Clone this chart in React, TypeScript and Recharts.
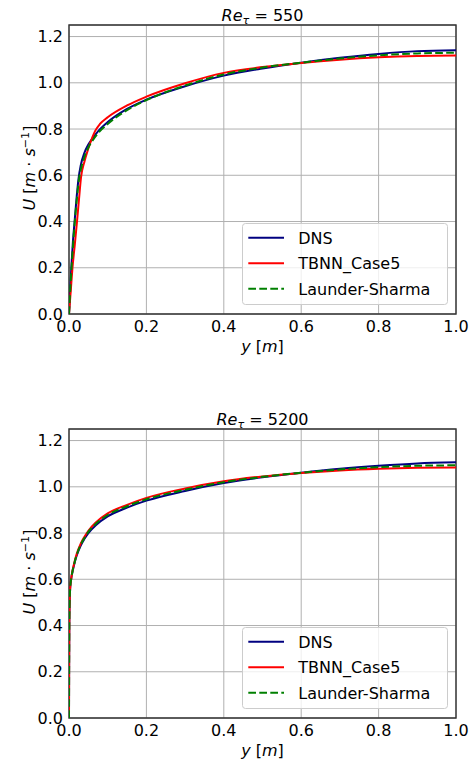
import React from 'react';
import {
  LineChart,
  Line,
  XAxis,
  YAxis,
  CartesianGrid,
  ReferenceArea,
  Legend,
} from 'recharts';

// ---------- data: Re_tau = 550 ----------
const DNS_550_Y = [0, 0.003, 0.006, 0.01, 0.015, 0.02, 0.025, 0.03, 0.04, 0.05, 0.06, 0.075, 0.1, 0.15, 0.2, 0.3, 0.4, 0.5, 0.6, 0.7, 0.8, 0.9, 1.0];
const DNS_550_U = [0, 0.1, 0.2, 0.31, 0.41, 0.51, 0.59, 0.64, 0.698, 0.733, 0.758, 0.79, 0.83, 0.887, 0.927, 0.985, 1.031, 1.062, 1.087, 1.108, 1.125, 1.137, 1.141];

const TBNN_550_Y = [0, 0.0045, 0.009, 0.015, 0.0207, 0.026, 0.031, 0.04, 0.05, 0.06, 0.068, 0.08, 0.1, 0.15, 0.2, 0.3, 0.4, 0.5, 0.6, 0.7, 0.8, 0.9, 1.0];
const TBNN_550_U = [0, 0.1, 0.2, 0.3, 0.4, 0.5, 0.59, 0.66, 0.716, 0.763, 0.793, 0.822, 0.851, 0.902, 0.94, 0.998, 1.043, 1.068, 1.086, 1.1, 1.11, 1.116, 1.118];

const LS_550_Y = [0, 0.003, 0.0065, 0.011, 0.016, 0.021, 0.026, 0.031, 0.04, 0.05, 0.06, 0.075, 0.1, 0.15, 0.2, 0.3, 0.4, 0.5, 0.6, 0.7, 0.8, 0.9, 1.0];
const LS_550_U = [0, 0.1, 0.2, 0.31, 0.42, 0.51, 0.585, 0.628, 0.68, 0.72, 0.748, 0.782, 0.822, 0.882, 0.925, 0.988, 1.036, 1.066, 1.087, 1.105, 1.119, 1.127, 1.13];

// ---------- data: Re_tau = 5200 ----------
const Y_5200 = [0, 0.0003, 0.0008, 0.0015, 0.003, 0.006, 0.01, 0.015, 0.02, 0.03, 0.04, 0.05, 0.07, 0.1, 0.15, 0.2, 0.3, 0.4, 0.5, 0.6, 0.7, 0.8, 0.9, 1.0];
const DNS_5200_U = [0, 0.2, 0.4, 0.49, 0.56, 0.605, 0.64, 0.675, 0.703, 0.745, 0.775, 0.8, 0.835, 0.872, 0.91, 0.94, 0.982, 1.016, 1.041, 1.061, 1.078, 1.091, 1.101, 1.106];
const TBNN_5200_U = [0, 0.2, 0.4, 0.49, 0.56, 0.607, 0.645, 0.68, 0.71, 0.753, 0.784, 0.81, 0.847, 0.885, 0.922, 0.952, 0.993, 1.024, 1.045, 1.06, 1.071, 1.078, 1.082, 1.084];
const LS_5200_U = [0, 0.2, 0.4, 0.49, 0.56, 0.605, 0.642, 0.677, 0.706, 0.749, 0.779, 0.805, 0.841, 0.878, 0.916, 0.946, 0.987, 1.02, 1.043, 1.061, 1.075, 1.085, 1.091, 1.093];

// ---------- ticks / labels ----------
const X_TICKS = [0, 0.2, 0.4, 0.6, 0.8, 1.0];
const Y_TICKS = [0, 0.2, 0.4, 0.6, 0.8, 1.0, 1.2];
const SERIES_NAMES = ['DNS', 'TBNN_Case5', 'Launder-Sharma'];
const RE_LABELS = ['550', '5200'];

const zip = (ys: number[], us: number[]) => ys.map((y, i) => ({ y, U: us[i] }));

const FONT = 'DejaVu Sans';

const STYLES: Record<string, { color: string; dash?: string }> = {
  DNS: { color: '#000080' },
  TBNN_Case5: { color: '#ff0000' },
  'Launder-Sharma': { color: '#008000', dash: '7.7 3.3' },
};

const renderLegend = (props: any) => {
  const payload: any[] = [...(props.payload || [])].sort(
    (a: any, b: any) => SERIES_NAMES.indexOf(a.value) - SERIES_NAMES.indexOf(b.value)
  );
  const rows = [14.7, 40.3, 65.7];
  return (
    <svg width={206} height={82} style={{ display: 'block', overflow: 'visible' }}>
      <rect x={0.5} y={0.5} width={205} height={81} rx={3} ry={3} fill="#ffffff" fillOpacity={0.8} stroke="#cccccc" strokeWidth={1} />
      {payload.map((p: any, i: number) => {
        const st = STYLES[p.value] || { color: p.color };
        const cy = rows[i] ?? 14.7 + i * 25.5;
        return (
          <g key={p.value}>
            <line x1={6.3} x2={42} y1={cy} y2={cy} stroke={st.color} strokeWidth={2} strokeDasharray={st.dash} />
            <text x={56.3} y={cy + 5.8} fontSize={16} fontFamily={FONT} fill="#000">
              {p.value}
            </text>
          </g>
        );
      })}
    </svg>
  );
};

function Panel({ re, series }: { re: string; series: { name: string; data: { y: number; U: number }[] }[] }) {
  const titleContent = (props: any) => {
    const vb = props.viewBox || {};
    const cx = vb.x + vb.width / 2;
    return (
      <text x={cx} y={vb.y - 3.7} textAnchor="middle" fontSize={16} fontFamily={FONT} fill="#000" style={{ whiteSpace: 'pre' }}>
        <tspan fontStyle="italic">Re</tspan>
        <tspan fontStyle="italic" fontSize={11.2} dy={3}>τ</tspan>
        <tspan dy={-3}>{' = ' + re}</tspan>
      </text>
    );
  };
  const xLabel = (props: any) => {
    const vb = props.viewBox || {};
    return (
      <text x={vb.x + vb.width / 2} y={vb.y + 38} textAnchor="middle" fontSize={16} fontFamily={FONT} fill="#000" style={{ whiteSpace: 'pre' }}>
        <tspan fontStyle="italic">y</tspan>
        <tspan>{' ['}</tspan>
        <tspan fontStyle="italic">m</tspan>
        <tspan>]</tspan>
      </text>
    );
  };
  const yLabel = (props: any) => {
    const vb = props.viewBox || {};
    const bx = 35;
    const cy = vb.y + vb.height / 2 - 1.5;
    return (
      <text transform={`translate(${bx}, ${cy}) rotate(-90)`} x={0} y={0} textAnchor="middle" fontSize={16} fontFamily={FONT} fill="#000" style={{ whiteSpace: 'pre' }}>
        <tspan fontStyle="italic">U</tspan>
        <tspan>{' ['}</tspan>
        <tspan fontStyle="italic">m</tspan>
        <tspan>{' · '}</tspan>
        <tspan fontStyle="italic">s</tspan>
        <tspan fontSize={11.2} dy={-6.5}>−1</tspan>
        <tspan dy={6.5}>]</tspan>
      </text>
    );
  };
  return (
    <LineChart width={476} height={380} margin={{ top: 25, right: 20, bottom: 36, left: 9 }}>
      <CartesianGrid stroke="#b0b0b0" strokeWidth={1} />
      <XAxis
        type="number"
        dataKey="y"
        domain={[0, 1]}
        ticks={X_TICKS}
        allowDataOverflow
        tickFormatter={(v: number) => v.toFixed(1)}
        tickLine={false}
        axisLine={false}
        tickSize={6}
        tickMargin={1}
        height={30}
        tick={{ fill: '#000', fontSize: 16, fontFamily: FONT }}
        label={xLabel}
      />
      <YAxis
        type="number"
        domain={[0, 1.25]}
        ticks={Y_TICKS}
        allowDataOverflow
        tickFormatter={(v: number) => v.toFixed(1)}
        tickLine={false}
        axisLine={false}
        tickSize={6}
        tickMargin={0}
        width={60}
        tick={{ fill: '#000', fontSize: 16, fontFamily: FONT }}
        label={yLabel}
      />
      <ReferenceArea x1={0} x2={1} y1={0} y2={1.25} fill="none" fillOpacity={0} stroke="#333333" strokeWidth={1.4} label={titleContent} />
      {series.map((s) => (
        <Line
          key={s.name}
          name={s.name}
          data={s.data}
          dataKey="U"
          type="monotone"
          stroke={STYLES[s.name].color}
          strokeWidth={2}
          strokeDasharray={STYLES[s.name].dash}
          dot={false}
          activeDot={false}
          isAnimationActive={false}
        />
      ))}
      <Legend
        layout="vertical"
        align="center"
        verticalAlign="middle"
        wrapperStyle={{ left: 242, top: 223, width: 206, height: 82 }}
        content={renderLegend}
      />
    </LineChart>
  );
}

export default function App() {
  const top = [
    { name: SERIES_NAMES[0], data: zip(DNS_550_Y, DNS_550_U) },
    { name: SERIES_NAMES[1], data: zip(TBNN_550_Y, TBNN_550_U) },
    { name: SERIES_NAMES[2], data: zip(LS_550_Y, LS_550_U) },
  ];
  const bottom = [
    { name: SERIES_NAMES[0], data: zip(Y_5200, DNS_5200_U) },
    { name: SERIES_NAMES[1], data: zip(Y_5200, TBNN_5200_U) },
    { name: SERIES_NAMES[2], data: zip(Y_5200, LS_5200_U) },
  ];
  return (
    <div style={{ position: 'absolute', left: 0, top: 0, width: 476, height: 762, background: '#fff', fontFamily: FONT }}>
      <div style={{ position: 'absolute', left: 0, top: 0 }}>
        <Panel re={RE_LABELS[0]} series={top} />
      </div>
      <div style={{ position: 'absolute', left: 0, top: 404 }}>
        <Panel re={RE_LABELS[1]} series={bottom} />
      </div>
    </div>
  );
}
